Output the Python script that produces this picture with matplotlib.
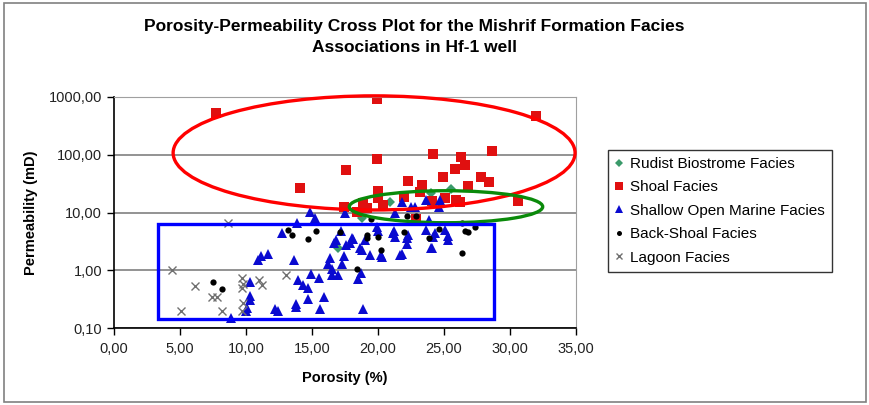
import numpy as np
import matplotlib
matplotlib.use('Agg')
import matplotlib.pyplot as plt
from matplotlib.patches import Ellipse, Rectangle
from matplotlib.ticker import FuncFormatter, FixedLocator, NullLocator

plt.rcParams['font.family'] = ['Liberation Sans', 'DejaVu Sans']

# Rudist Biostrome Facies
rudist_phi = [17.0, 18.8, 20.9, 24.0, 25.5]
rudist_k = [2.4, 8.0, 15.0, 22.0, 26.0]

# Shoal Facies
shoal_phi = [7.7, 19.9, 32.0, 24.2, 28.6, 19.9, 17.6, 26.3, 26.6, 25.8, 24.9, 27.8,
             28.4, 22.3, 23.3, 23.2, 26.8, 20.0, 30.6, 14.1, 17.4, 18.4, 18.9, 19.2,
             20.0, 20.4, 22.0, 22.9, 24.1, 25.1, 25.9, 26.2]
shoal_k = [520, 920, 470, 103, 117, 85, 54, 90, 66, 56, 41, 42,
           34, 35, 30, 23, 29, 24, 16, 27, 12.7, 10.1, 14.4, 11.9,
           17.5, 13.5, 18.5, 7.8, 15.7, 17.5, 16.6, 15.3]

# Shallow Open Marine Facies
shallow_phi = [8.9, 10.0, 10.1, 10.3, 10.3, 10.3, 10.9, 11.1, 11.7, 12.2, 12.4, 12.7,
               13.6, 13.8, 13.8, 13.9, 13.96, 14.3, 14.7, 14.7, 14.85, 14.9, 15.2, 15.5,
               15.6, 15.9, 16.2, 16.4, 16.5, 16.5, 16.7, 16.8, 17.0, 17.2, 17.3, 17.4,
               17.5, 17.6, 17.9, 18.0, 18.5, 18.7, 18.6, 18.9, 19.0, 19.4, 19.9, 20.0,
               20.2, 21.1, 21.3, 21.3, 21.7, 22.2, 22.2, 21.8, 22.5, 23.6, 23.9, 24.0,
               23.6, 24.2, 24.3, 24.6, 24.7, 25.1, 25.3, 25.3, 18.1, 18.8, 20.3, 21.8,
               22.8, 21.2, 22.3, 24.1]
shallow_k = [0.15, 0.20, 0.22, 0.31, 0.36, 0.63, 1.5, 1.75, 1.95, 0.21, 0.20, 4.5,
             1.5, 0.23, 0.26, 6.5, 0.68, 0.55, 0.49, 0.32, 10.2, 0.85, 7.9, 0.72,
             0.21, 0.35, 1.3, 1.65, 0.83, 1.05, 3.0, 3.4, 0.83, 4.8, 1.3, 1.8,
             9.8, 2.7, 3.0, 3.6, 0.70, 0.90, 2.4, 0.21, 3.4, 1.85, 5.7, 4.7,
             1.85, 4.4, 3.8, 9.8, 1.85, 2.8, 3.6, 15.5, 12.4, 16.6, 7.4, 2.4,
             5.0, 3.8, 4.4, 12.6, 16.6, 5.0, 3.3, 3.9, 3.5, 2.2, 1.7, 1.9,
             12.6, 4.7, 4.0, 2.4]

# Back-Shoal Facies
back_phi = [7.5, 8.2, 13.2, 13.5, 14.7, 15.3, 17.1, 18.4, 19.2, 19.2, 19.5, 20.0,
            20.2, 22.0, 22.2, 22.9, 23.9, 24.6, 26.4, 26.6, 26.8, 27.35, 26.4]
back_k = [0.62, 0.48, 5.0, 4.1, 3.5, 4.8, 4.6, 1.05, 4.1, 3.6, 7.8, 3.8,
          2.2, 4.6, 8.8, 8.8, 3.6, 5.2, 6.6, 4.8, 4.6, 5.6, 2.0]

# Lagoon Facies
lagoon_phi = [4.4, 8.6, 6.1, 5.1, 7.4, 7.8, 8.2, 9.7, 9.8, 9.7, 10.95, 11.2, 13.0, 9.8, 9.7]
lagoon_k = [1.0, 6.7, 0.54, 0.2, 0.35, 0.35, 0.2, 0.72, 0.57, 0.5, 0.67, 0.55, 0.83, 0.27, 0.2]

x_ticks = [0, 5, 10, 15, 20, 25, 30, 35]
y_ticks = [0.1, 1, 10, 100, 1000]

fig = plt.figure(figsize=(8.69, 4.05), dpi=100)
ax = fig.add_axes([114 / 869, 77 / 405, 462 / 869, 231 / 405])

ax.plot(rudist_phi, rudist_k, 'D', color='#3a9a6a', ms=5.5, mew=0, label='Rudist Biostrome Facies')
ax.plot(shoal_phi, shoal_k, 's', color='#e01010', ms=6.5, mew=0, label='Shoal Facies')
ax.plot(shallow_phi, shallow_k, '^', color='#0a0ad0', ms=7.5, mew=0, label='Shallow Open Marine Facies')
ax.plot(back_phi, back_k, 'o', color='black', ms=4.5, mew=0, label='Back-Shoal Facies')
ax.plot(lagoon_phi, lagoon_k, 'x', color='#707070', ms=6, mew=1.0, label='Lagoon Facies')

ax.set_yscale('log')
ax.set_xlim(0, 35)
ax.set_ylim(0.1, 1000)
ax.yaxis.set_major_locator(FixedLocator(y_ticks))
ax.yaxis.set_minor_locator(NullLocator())
ax.set_xticks(x_ticks)
fmt = FuncFormatter(lambda v, p: ('%.2f' % v).replace('.', ','))
ax.xaxis.set_major_formatter(fmt)
ax.yaxis.set_major_formatter(fmt)
ax.grid(axis='y', color='#808080', lw=1.2)
ax.set_axisbelow(True)
ax.tick_params(labelsize=10.5, direction='out', length=5, width=1, colors='black', labelcolor='#222222')
ax.tick_params(axis='x', pad=5)
for s in ['top', 'right']:
    ax.spines[s].set_color('#a0a0a0')
for s in ['left', 'bottom']:
    ax.spines[s].set_color('black')
    ax.spines[s].set_linewidth(1.2)

ax.set_xlabel('Porosity (%)', fontsize=10.5, fontweight='bold', labelpad=11)
ax.set_ylabel('Permeability (mD)', fontsize=10.5, fontweight='bold', labelpad=8)

# annotation shapes
ax.add_patch(Ellipse((0.563, 0.758), 0.870, 0.494, transform=ax.transAxes, fill=False,
                     edgecolor='#ff0000', lw=2.4, clip_on=False, zorder=5))
ax.add_patch(Ellipse((0.7186, 0.525), 0.4186, 0.1385, transform=ax.transAxes, fill=False,
                     edgecolor='#0a8a0a', lw=2.4, clip_on=False, zorder=5))
ax.add_patch(Rectangle((0.0946, 0.0377), 0.7279, 0.4123, transform=ax.transAxes, fill=False,
                       edgecolor='#0000ff', lw=2.4, clip_on=False, zorder=5))

fig.text(0.477, 0.909, 'Porosity-Permeability Cross Plot for the Mishrif Formation Facies\nAssociations in Hf-1 well',
         ha='center', va='center', fontsize=12.5, fontweight='bold', linespacing=1.5)

leg = fig.legend(loc='upper left', bbox_to_anchor=(608 / 869, 1 - 150 / 405), fontsize=11,
                 frameon=True, fancybox=False, edgecolor='black', handlelength=0.6,
                 handletextpad=0.4, labelspacing=0.62, borderpad=0.45, borderaxespad=0,
                 markerscale=0.8)
leg.get_frame().set_linewidth(1.0)

fig.patches.append(Rectangle((4 / 869, 3 / 405), 862 / 869, 399 / 405, transform=fig.transFigure,
                             fill=False, edgecolor='#808080', lw=1.2))

fig.savefig('out.png', dpi=100)
